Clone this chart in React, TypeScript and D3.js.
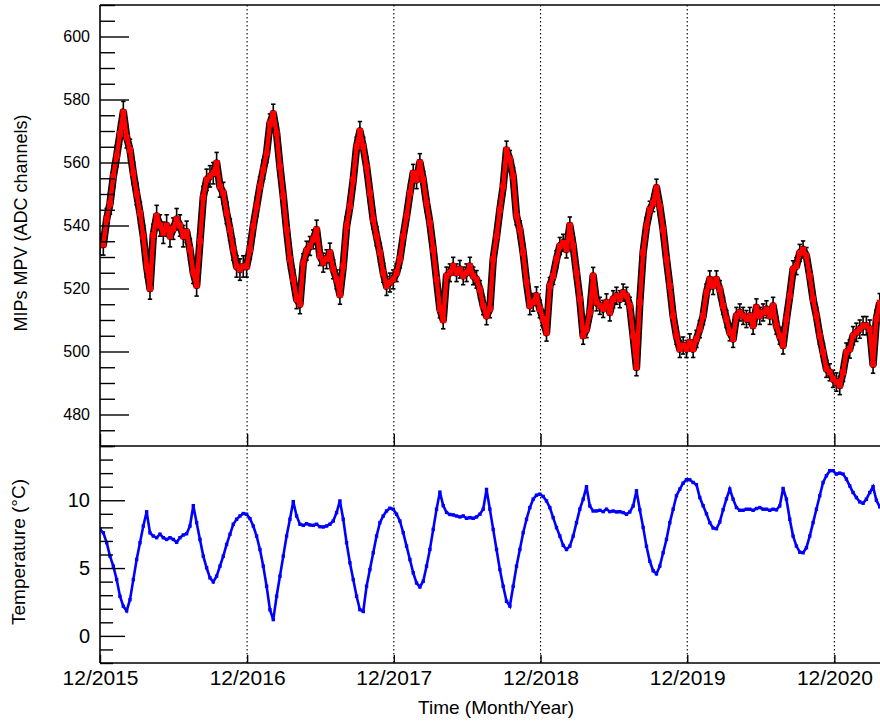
import React, {useEffect, useRef} from 'react';
import * as d3 from 'd3';

// Time axis: first reading on 1 Dec 2015, one reading every ~8.3 days
const startDate = new Date(2015, 11, 1);
const endDate = new Date(2021, 3, 1);
const sampleStepDays = 8.29;
const tickYears = [2015, 2016, 2017, 2018, 2019, 2020];

// MIPs MPV (ADC channels)
const mpvValues = [
  534, 534, 542, 547, 555.6, 562, 569, 576, 568, 564,
  556.6, 550, 544, 536.6, 527, 520, 537, 543, 540, 537.7,
  540, 536.6, 539, 542, 540, 536.6, 538, 532.4, 525, 521,
  535, 549, 554.5, 555.6, 556.6, 559.8, 552.4, 550.3, 544, 538.7,
  532.4, 527, 526, 527, 527, 532.4, 539.8, 546, 552.4, 557.7,
  563, 572.4, 575.5, 569.3, 558.7, 549.3, 538.7, 529.3, 523, 516.6,
  515,
  528, 532, 533.5, 535.6, 538.7, 530.3, 528.2, 529.3, 531.4, 526.1,
  522.9, 518, 527.1, 539.8, 546.1, 554.5, 565, 570, 565, 558.7,
  550.3, 541.9, 536.6, 531.4, 525, 520.8, 521.9, 522.9, 525, 529.3,
  536.6, 543, 550.3, 556.6, 554.5, 560, 554.5, 547.1, 540.8, 532.4,
  522.9, 513.5, 510, 524, 525, 527.1, 525, 526.1, 524, 525,
  527.1, 524, 522.9, 519.7, 514.5, 511.3, 513.5,
  529.3, 536.6, 545, 552.4, 564, 561, 555.6, 543, 538.7, 531.4,
  522, 514.5, 515.6, 517.7, 513.5, 510.3, 506, 520.8, 524, 529.3,
  533.5, 534.5, 532.4, 540, 533.5, 525, 516.6, 505, 507.1, 512.4,
  524, 515.6, 514.5, 513.5, 515.6, 512.4, 516.6, 517.7, 516.6, 518.7,
  517.7, 514.5, 505, 495, 515.6, 531.4, 539.8, 545, 547.1, 552,
  546.1, 538.7, 529.3, 520.8, 511.3, 505, 500.8,
  501.9, 500.8, 502.9, 500.8, 504, 507.1, 511.3, 518.7, 522.9, 520.8,
  522.9, 519.8, 514.5, 510.3, 506.1, 504, 511.3, 512.4, 511.3, 510.3,
  511.3, 508.2, 514, 511.3, 512.4, 513.4, 511.3, 514.5, 508.2, 505,
  501.9, 510.3, 517.7, 526.1, 527.1, 531.3, 532.4, 530.3, 524, 516.6,
  511.3, 505, 499.8, 494.5, 493.4, 491.3, 490.3, 489.2, 493.4, 499.8,
  500.8, 505, 506.1, 507.1, 508.2, 508.2, 507.1, 496, 510.3, 515.5,
];

// typical error bar half-width per year of data
const mpvErrorByYear = [3.4, 3.0, 2.8, 2.7, 2.7, 2.9];

// Temperature (°C)
const temperatureValues = [
  7.85, 7.6, 6.87, 5.88, 5.14, 4.15, 2.92, 2.18, 1.85, 2.67,
  4.15, 5.63, 6.87, 8.1, 9.15, 7.6, 7.36, 7.24, 7.5, 7.24,
  7.11, 7.24, 7.11, 6.9, 7.24, 7.44, 7.53, 8.1, 9.6, 8.35,
  7.11, 5.88, 5.02, 4.28, 3.98, 4.4, 5.14, 5.88, 6.74, 7.49,
  8.23, 8.6, 8.84, 9.02, 8.97, 8.65, 8.1, 7.36, 6.37, 5.14,
  3.66, 1.93, 1.2, 2.92, 4.4, 5.88, 7.36, 8.6, 9.9, 8.84,
  8.23, 8.15, 8.27, 8.18, 8.15, 8.23, 8.05, 8.03, 8.1, 8.23,
  8.47, 9.09, 9.95, 8.6, 6.87, 5.39, 4.15, 2.92, 1.93,
  1.8, 3.66, 4.89, 6.13, 7.36, 8.35, 8.84, 9.21, 9.41, 9.34,
  8.97, 8.47, 7.61, 6.62, 5.63, 4.65, 3.9, 3.61, 4.03, 5.14,
  6.37, 7.85, 9.34, 10.6, 9.6, 9.1, 8.95, 8.92, 8.84, 8.77,
  8.84, 8.67, 8.72, 8.67, 8.77, 8.97, 9.34, 10.8, 9.34, 7.85,
  6.37, 4.89, 3.66, 2.55, 2.2, 3.66, 5.14, 6.37, 7.61, 8.6,
  9.46, 10.08, 10.37, 10.45, 10.28, 9.95, 9.46, 8.72, 7.98, 7.36,
  6.67, 6.37, 6.62, 7.36, 8.35, 9.34, 10.08, 11.0, 9.58, 9.21,
  9.21, 9.26, 9.16, 9.34, 9.16, 9.21, 9.14, 9.16,
  9.09, 8.97, 9.14, 9.58, 10.7, 9.3, 8.0, 6.6, 5.5, 4.8,
  4.57, 5.14, 6.13, 7.11, 8.35, 9.34, 10.33, 10.82, 11.26, 11.51,
  11.51, 11.31, 11.15, 10.2, 9.6, 9.0, 8.35, 7.95, 7.9, 8.4,
  9.3, 10.1, 10.82, 10.08, 9.46, 9.26, 9.26, 9.34, 9.34, 9.26,
  9.39, 9.46, 9.34, 9.34, 9.26, 9.34, 9.29, 9.58, 10.87, 10.08,
  8.6, 7.36, 6.62, 6.17, 6.13, 6.5, 7.36, 8.35, 9.34, 10.33,
  11.31, 11.81, 12.18, 12.18, 11.93, 12.0, 11.93, 11.56, 11.06, 10.57,
  10.2, 9.88, 9.78, 10.08, 10.57, 11.0, 10.0, 9.51,
];

const mpvMajorTicks = [480, 500, 520, 540, 560, 580, 600];
const tempMajorTicks = [0, 5, 10];

const WIDTH = 880;
const HEIGHT = 722;
const FONT = '"Liberation Sans", Arial, Helvetica, sans-serif';

interface Point {
  t: Date;
  v: number;
  e?: number;
}

const dateAt = (i: number) =>
  new Date(startDate.getTime() + i * sampleStepDays * 864e5);

export default function App() {
  const svgRef = useRef<SVGSVGElement>(null);

  useEffect(() => {
    if (!svgRef.current) return;
    const svg = d3.select(svgRef.current);
    svg.selectAll('*').remove();

    const left = 100;
    const right = 883;
    const top = 5;
    const mid = 446;
    const bottom = 663;

    const x = d3.scaleTime().domain([startDate, endDate]).range([left, right]);
    const yTop = d3.scaleLinear().domain([470, 610]).range([mid, top]);
    const yBot = d3.scaleLinear().domain([-2, 14]).range([bottom, mid]);

    const yearDates = tickYears.map((y) => new Date(y, 11, 1));

    const mpv: Point[] = mpvValues.map((v, i) => ({
      t: dateAt(i),
      v,
      e: mpvErrorByYear[Math.min(5, Math.floor((i * sampleStepDays) / 365.25))],
    }));
    const temp: Point[] = temperatureValues.map((v, i) => ({t: dateAt(i), v}));

    const defs = svg.append('defs');
    defs
      .append('clipPath')
      .attr('id', 'clip-top')
      .append('rect')
      .attr('x', left)
      .attr('y', top)
      .attr('width', right - left)
      .attr('height', mid - top);
    defs
      .append('clipPath')
      .attr('id', 'clip-bot')
      .append('rect')
      .attr('x', left)
      .attr('y', mid)
      .attr('width', right - left)
      .attr('height', bottom - mid);

    // dotted vertical grid at each year
    svg
      .append('g')
      .selectAll('line')
      .data(yearDates.slice(1))
      .join('line')
      .attr('x1', (d) => x(d))
      .attr('x2', (d) => x(d))
      .attr('y1', top)
      .attr('y2', bottom)
      .attr('stroke', '#000')
      .attr('stroke-width', 1.1)
      .attr('stroke-dasharray', '1.5,2.5');

    // ---- upper panel: MPV with error bars
    const gTop = svg.append('g').attr('clip-path', 'url(#clip-top)');
    const lineTop = d3
      .line<Point>()
      .x((d) => x(d.t))
      .y((d) => yTop(d.v));
    // dark halo left by the overlapping error bars
    gTop
      .append('path')
      .datum(mpv)
      .attr('d', lineTop)
      .attr('fill', 'none')
      .attr('stroke', '#000')
      .attr('stroke-width', 7.5)
      .attr('stroke-linejoin', 'round');
    const errs = gTop.append('g').attr('stroke', '#000').attr('stroke-width', 1.6);
    mpv.forEach((p) => {
      const px = x(p.t);
      const y1 = yTop(p.v - p.e!);
      const y2 = yTop(p.v + p.e!);
      errs.append('line').attr('x1', px).attr('x2', px).attr('y1', y1).attr('y2', y2);
      errs.append('line').attr('x1', px - 2.2).attr('x2', px + 2.2).attr('y1', y1).attr('y2', y1);
      errs.append('line').attr('x1', px - 2.2).attr('x2', px + 2.2).attr('y1', y2).attr('y2', y2);
    });
    gTop
      .append('path')
      .datum(mpv)
      .attr('d', lineTop)
      .attr('fill', 'none')
      .attr('stroke', '#ff0000')
      .attr('stroke-width', 4.5)
      .attr('stroke-linejoin', 'round');
    gTop
      .append('g')
      .selectAll('rect')
      .data(mpv)
      .join('rect')
      .attr('x', (d) => x(d.t) - 3)
      .attr('y', (d) => yTop(d.v) - 3)
      .attr('width', 6)
      .attr('height', 6)
      .attr('fill', '#ff0000');

    // ---- lower panel: temperature
    const gBot = svg.append('g').attr('clip-path', 'url(#clip-bot)');
    const lineBot = d3
      .line<Point>()
      .x((d) => x(d.t))
      .y((d) => yBot(d.v));
    gBot
      .append('path')
      .datum(temp)
      .attr('d', lineBot)
      .attr('fill', 'none')
      .attr('stroke', '#0000ff')
      .attr('stroke-width', 2.6);
    gBot
      .append('g')
      .selectAll('rect')
      .data(temp)
      .join('rect')
      .attr('x', (d) => x(d.t) - 1.7)
      .attr('y', (d) => yBot(d.v) - 1.7)
      .attr('width', 3.4)
      .attr('height', 3.4)
      .attr('fill', '#0000ff');

    // ---- frame
    const frame = svg.append('g').attr('stroke', '#000').attr('stroke-width', 1.6);
    frame.append('line').attr('x1', left).attr('x2', left).attr('y1', top).attr('y2', bottom);
    [top, mid, bottom].forEach((yy) =>
      frame.append('line').attr('x1', left).attr('x2', WIDTH + 5).attr('y1', yy).attr('y2', yy),
    );

    const styleAxis = (g: d3.Selection<SVGGElement, unknown, null, undefined>) => {
      g.select('.domain').remove();
      g.selectAll('line').attr('stroke', '#000').attr('stroke-width', 1.4);
      g.attr('font-family', FONT);
    };

    // y axes: ticks point inward, labels outside
    const yAxis = (
      scale: d3.ScaleLinear<number, number>,
      majors: number[],
      minorStep: number,
      majorLen: number,
      minorLen: number,
      fontSize: number,
    ) => {
      const [d0, d1] = scale.domain();
      const minors = d3.range(Math.ceil(d0 / minorStep) * minorStep, d1 + 1e-9, minorStep)
        .filter((v) => !majors.includes(v));
      svg.append('g')
        .attr('transform', `translate(${left},0)`)
        .call(d3.axisRight(scale).tickValues(minors).tickSize(minorLen).tickFormat(() => ''))
        .call(styleAxis);
      svg.append('g')
        .attr('transform', `translate(${left},0)`)
        .call(d3.axisRight(scale).tickValues(majors).tickSize(majorLen).tickFormat(() => ''))
        .call(styleAxis);
      const lab = svg.append('g')
        .attr('transform', `translate(${left},0)`)
        .call(d3.axisLeft(scale).tickValues(majors).tickSize(0).tickPadding(10).tickFormat(d3.format('d')))
        .call(styleAxis);
      lab.selectAll('text').attr('font-size', fontSize).attr('fill', '#000');
    };
    yAxis(yTop, mpvMajorTicks, 5, 29, 15, 16);
    yAxis(yBot, tempMajorTicks, 1, 25, 13, 20);

    // x axes
    svg.append('g')
      .attr('transform', `translate(0,${mid})`)
      .call(d3.axisTop(x).tickValues(yearDates).tickSize(12).tickFormat(() => ''))
      .call(styleAxis);
    svg.append('g')
      .attr('transform', `translate(0,${bottom})`)
      .call(d3.axisTop(x).tickValues(yearDates).tickSize(8).tickFormat(() => ''))
      .call(styleAxis);
    const xl = svg.append('g')
      .attr('transform', `translate(0,${bottom})`)
      .call(
        d3.axisBottom(x)
          .tickValues(yearDates)
          .tickSize(0)
          .tickPadding(7)
          .tickFormat((d) => d3.timeFormat('%m/%Y')(d as Date)),
      )
      .call(styleAxis);
    xl.selectAll('text').attr('font-size', 21).attr('fill', '#000');

    // titles
    svg.append('text')
      .attr('transform', 'translate(27,223) rotate(-90)')
      .attr('text-anchor', 'middle')
      .attr('font-family', FONT)
      .attr('font-size', 18)
      .text('MIPs MPV (ADC channels)');
    svg.append('text')
      .attr('transform', 'translate(25,552) rotate(-90)')
      .attr('text-anchor', 'middle')
      .attr('font-family', FONT)
      .attr('font-size', 19)
      .text('Temperature (°C)');
    svg.append('text')
      .attr('x', 574)
      .attr('y', 714)
      .attr('text-anchor', 'end')
      .attr('font-family', FONT)
      .attr('font-size', 19)
      .text('Time (Month/Year)');
  }, []);

  return (
    <svg
      ref={svgRef}
      width={WIDTH}
      height={HEIGHT}
      style={{position: 'absolute', left: 0, top: 0, background: '#fff', display: 'block'}}
    />
  );
}
